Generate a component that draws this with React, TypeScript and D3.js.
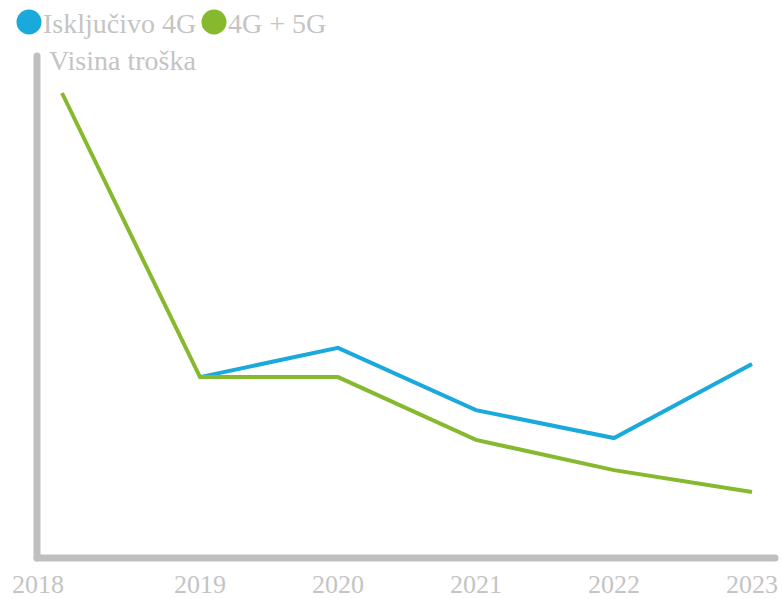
import { useEffect, useRef } from 'react';
import * as d3 from 'd3';

const years = [2018, 2019, 2020, 2021, 2022, 2023];
const only4G = [null, 38.9, 45.2, 31.8, 25.8, 41.7];
const with5G = [100, 38.9, 38.9, 25.4, 18.9, 14.2];
const seriesNames = ['Isključivo 4G', '4G + 5G'];
const seriesColors = ['#19a9db', '#86b92e'];
const yLabel = 'Visina troška';

export default function App() {
  const svgRef = useRef<SVGSVGElement>(null);

  useEffect(() => {
    if (!svgRef.current) return;
    const svg = d3.select(svgRef.current);
    svg.selectAll('*').remove();

    const font = '"Liberation Serif", "Times New Roman", serif';
    const textColor = '#c4c4c4';
    const axisColor = '#bfbfbf';

    const x = d3.scaleLinear().domain([2018, 2023]).range([62, 752]);
    const y = d3.scaleLinear().domain([0, 100]).range([558, 93]);

    // Axes
    svg.append('line')
      .attr('x1', 37).attr('x2', 37)
      .attr('y1', 56).attr('y2', 558)
      .attr('stroke', axisColor)
      .attr('stroke-width', 7)
      .attr('stroke-linecap', 'round');
    svg.append('line')
      .attr('x1', 37).attr('x2', 775)
      .attr('y1', 558).attr('y2', 558)
      .attr('stroke', axisColor)
      .attr('stroke-width', 7)
      .attr('stroke-linecap', 'round');

    // Year labels
    svg.append('g')
      .selectAll('text')
      .data(years)
      .join('text')
      .attr('x', d => x(d) + (d === 2018 ? -24 : 0))
      .attr('y', 593)
      .attr('text-anchor', 'middle')
      .attr('font-family', font)
      .attr('font-size', 26)
      .attr('fill', textColor)
      .text(d => d);

    // Y axis title
    svg.append('text')
      .attr('x', 49)
      .attr('y', 70)
      .attr('font-family', font)
      .attr('font-size', 28)
      .attr('fill', textColor)
      .text(yLabel);

    // Lines
    const line = d3.line<number | null>()
      .defined(d => d !== null)
      .x((_, i) => x(years[i]))
      .y(d => y(d as number));

    [only4G, with5G].forEach((vals, i) => {
      svg.append('path')
        .datum(vals)
        .attr('d', line)
        .attr('fill', 'none')
        .attr('stroke', seriesColors[i])
        .attr('stroke-width', 4)
        .attr('stroke-linejoin', 'miter');
    });

    // Legend
    const legendX = [29, 214];
    seriesNames.forEach((name, i) => {
      svg.append('circle')
        .attr('cx', legendX[i])
        .attr('cy', 22)
        .attr('r', 12.5)
        .attr('fill', seriesColors[i]);
      svg.append('text')
        .attr('x', legendX[i] + 14)
        .attr('y', 33)
        .attr('font-family', font)
        .attr('font-size', 28)
        .attr('fill', textColor)
        .text(name);
    });
  }, []);

  return (
    <svg
      ref={svgRef}
      width={782}
      height={599}
      style={{ position: 'absolute', left: 0, top: 0, background: '#fff' }}
    />
  );
}
